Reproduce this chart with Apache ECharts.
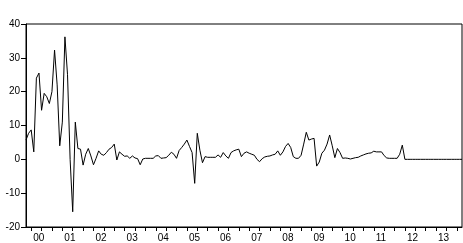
<!DOCTYPE html>
<html>
<head>
<meta charset="utf-8">
<script src="https://cdn.jsdelivr.net/npm/echarts@6/dist/echarts.min.js"></script>
<style>
html,body{margin:0;padding:0;background:#fff;}
#c{width:463px;height:243px;}
</style>
</head>
<body>
<div id="c"></div>
<script>
// Monthly series, first observation 1999M11 (month index 0)
var startYear = 1999;
var startMonth = 11;
var values = [
  5.7, 7.7, 8.7, 2.2, 24.0, 25.5, 14.5, 19.5, 18.5, 16.5,
  20.0, 32.3, 22.0, 4.0, 11.0, 36.2, 25.0, 0.0, -15.5, 11.0,
  3.2, 3.0, -1.7, 1.5, 3.2, 1.0, -1.6, 0.3, 2.5, 1.5,
  1.2, 2.0, 3.0, 3.5, 4.5, -0.2, 2.2, 1.5, 0.9, 1.0,
  0.3, 1.0, 0.4, 0.2, -1.6, 0.1, 0.3, 0.3, 0.3, 0.3,
  1.0, 1.1, 0.3, 0.4, 0.5, 1.2, 2.1, 1.5, 0.3, 2.6,
  3.5, 4.5, 5.7, 3.8, 2.0, -7.1, 7.7, 2.7, -1.0, 0.8,
  0.6, 0.6, 0.6, 0.6, 1.3, 0.6, 2.0, 1.0, 0.3, 2.0,
  2.5, 2.8, 3.0, 0.8, 1.8, 2.2, 1.8, 1.5, 1.2, 0.0,
  -0.7, 0.2, 0.7, 0.9, 1.0, 1.3, 1.5, 2.5, 1.2, 2.2,
  3.8, 4.7, 3.5, 0.8, 0.3, 0.3, 1.2, 4.5, 8.0, 5.7,
  6.0, 6.2, -2.0, -0.8, 1.8, 2.7, 4.5, 7.2, 4.0, 0.5,
  3.2, 2.0, 0.3, 0.4, 0.3, 0.1, 0.3, 0.5, 0.6, 1.0,
  1.3, 1.6, 1.8, 1.9, 2.4, 2.2, 2.2, 2.2, 1.1, 0.4,
  0.3, 0.3, 0.3, 0.3, 1.5, 4.2, 0, 0, 0, 0,
  0, 0, 0, 0, 0, 0, 0, 0, 0, 0,
  0, 0, 0, 0, 0, 0, 0, 0, 0
];
var yearLabels = ['00','01','02','03','04','05','06','07','08','09','10','11','12','13'];
var yTicks = [-20, -10, 0, 10, 20, 30, 40];

// month index of each January (label positions) and every 4th month (tick positions)
var firstJan = 12 - (startMonth - 1);
var labelPos = [];
for (var k = 0; k < yearLabels.length; k++) labelPos.push(firstJan + 12 * k);
var tickPos = [];
for (var t = firstJan; t < values.length; t += 4) tickPos.push(t);

var seriesData = values.map(function (v, i) { return [i, v]; });

var chart = echarts.init(document.getElementById('c'), null, {renderer: 'canvas'});
var font = 'Liberation Sans, Arial, sans-serif';
chart.setOption({
  animation: false,
  backgroundColor: '#ffffff',
  grid: {left: 26, right: 1, top: 24, bottom: 16, show: true, borderColor: '#000', borderWidth: 1, backgroundColor: 'transparent'},
  xAxis: {
    type: 'value',
    min: 0,
    max: values.length - 1,
    axisLine: {show: true, onZero: false, lineStyle: {color: '#000', width: 1}},
    axisTick: {
      show: true, length: 4, inside: false,
      customValues: tickPos,
      lineStyle: {color: '#000', width: 1}
    },
    axisLabel: {
      show: true,
      customValues: labelPos,
      formatter: function (v) {
        var idx = Math.round((v - firstJan) / 12);
        return yearLabels[idx] || '';
      },
      align: 'left',
      padding: [0, 0, 0, 2],
      margin: 6,
      color: '#000',
      fontFamily: font,
      fontSize: 10
    },
    splitLine: {show: false}
  },
  yAxis: {
    type: 'value',
    min: yTicks[0],
    max: yTicks[yTicks.length - 1],
    interval: 10,
    axisLine: {show: true, onZero: false, lineStyle: {color: '#000', width: 1}},
    axisTick: {show: true, length: 5, lineStyle: {color: '#000', width: 1}},
    axisLabel: {color: '#000', fontFamily: font, fontSize: 10, margin: 6},
    splitLine: {show: false}
  },
  series: [{
    type: 'line',
    data: seriesData,
    showSymbol: false,
    symbol: 'none',
    lineStyle: {color: '#000', width: 1},
    silent: true
  }]
});
</script>
</body>
</html>
